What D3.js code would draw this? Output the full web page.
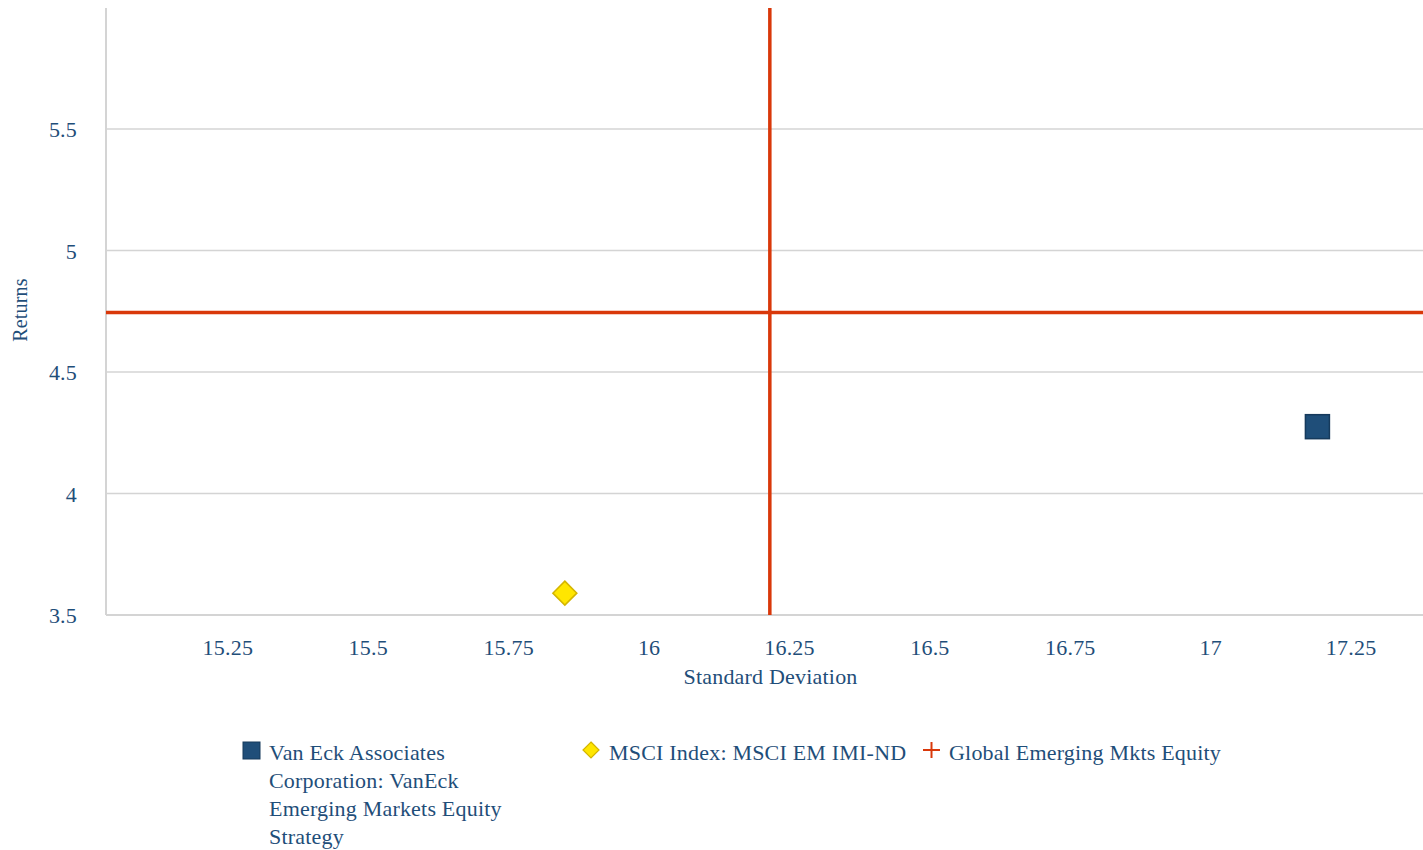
<!DOCTYPE html>
<html>
<head>
<meta charset="utf-8">
<script src="https://d3js.org/d3.v7.min.js"></script>
<style>
  body { margin: 0; background: #fff; }
  text { font-family: "Liberation Serif", "Times New Roman", serif; fill: #1f4e79; letter-spacing: 0.2px; }
</style>
</head>
<body>
<svg id="chart" width="1423" height="850"></svg>
<script>
// data
var seriesNames = ["Van Eck Associates Corporation: VanEck Emerging Markets Equity Strategy",
                   "MSCI Index: MSCI EM IMI-ND",
                   "Global Emerging Mkts Equity"];
var stdDevs = [17.19, 15.85, 16.215];
var returns = [4.275, 3.59, 4.745];
var xTicks = [15.25, 15.5, 15.75, 16, 16.25, 16.5, 16.75, 17, 17.25];
var yTicks = [3.5, 4, 4.5, 5, 5.5];

var svg = d3.select('#chart');
var pLeft = 106, pRight = 1423, pTop = 8, pBottom = 615;
var fs = 22;

var x = d3.scaleLinear().domain([15.033, 17.378]).range([pLeft, pRight]);
var y = d3.scaleLinear().domain([3.5, 5.998]).range([pBottom, pTop]);

// grid
svg.append("g").selectAll("line").data(yTicks.slice(1)).enter().append("line")
  .attr("x1", pLeft).attr("x2", pRight)
  .attr("y1", d => y(d)).attr("y2", d => y(d))
  .attr("stroke", "#d4d4d4").attr("stroke-width", 1.3);

// axis lines
svg.append("line").attr("x1", pLeft).attr("x2", pLeft).attr("y1", pTop).attr("y2", pBottom)
  .attr("stroke", "#d4d4d4").attr("stroke-width", 2);
svg.append("line").attr("x1", pLeft).attr("x2", pRight).attr("y1", pBottom).attr("y2", pBottom)
  .attr("stroke", "#d4d4d4").attr("stroke-width", 2);

// tick labels
svg.append("g").selectAll("text").data(yTicks).enter().append("text")
  .attr("x", 77).attr("y", d => y(d) + 8)
  .attr("text-anchor", "end").attr("font-size", fs)
  .text(d => d);
svg.append("g").selectAll("text").data(xTicks).enter().append("text")
  .attr("x", d => x(d)).attr("y", 655)
  .attr("text-anchor", "middle").attr("font-size", fs)
  .text(d => d);

// axis titles
svg.append("text").attr("x", (pLeft + pRight) / 2 + 6).attr("y", 684)
  .attr("text-anchor", "middle").attr("font-size", fs).text("Standard Deviation");
svg.append("text").attr("transform", "translate(27,310) rotate(-90)")
  .attr("text-anchor", "middle").attr("font-size", 20).text("Returns");

// peer group cross lines
var red = "#d9380a";
svg.append("line").attr("x1", x(stdDevs[2])).attr("x2", x(stdDevs[2]))
  .attr("y1", pTop).attr("y2", pBottom).attr("stroke", red).attr("stroke-width", 3.5);
svg.append("line").attr("x1", pLeft).attr("x2", pRight)
  .attr("y1", y(returns[2])).attr("y2", y(returns[2])).attr("stroke", red).attr("stroke-width", 3.5);

// points
svg.append("rect")
  .attr("x", x(stdDevs[0]) - 12).attr("y", y(returns[0]) - 12)
  .attr("width", 24).attr("height", 24)
  .attr("fill", "#1f4e79").attr("stroke", "#163a5c").attr("stroke-width", 1.5);
svg.append("path")
  .attr("d", "M0,-12L12,0L0,12L-12,0Z")
  .attr("transform", "translate(" + x(stdDevs[1]) + "," + y(returns[1]) + ")")
  .attr("fill", "#ffe600").attr("stroke", "#d4b500").attr("stroke-width", 1.5);

// legend
var lg = svg.append("g");
lg.append("rect").attr("x", 243).attr("y", 742).attr("width", 17).attr("height", 17)
  .attr("fill", "#1f4e79").attr("stroke", "#163a5c").attr("stroke-width", 1);
var lines0 = ["Van Eck Associates", "Corporation: VanEck", "Emerging Markets Equity", "Strategy"];
lg.append("text").attr("font-size", fs).selectAll("tspan").data(lines0).enter().append("tspan")
  .attr("x", 269).attr("y", (d, i) => 760 + i * 28).text(d => d);

lg.append("path")
  .attr("d", "M0,-8L8,0L0,8L-8,0Z")
  .attr("transform", "translate(591,750)")
  .attr("fill", "#ffe600").attr("stroke", "#d4b500").attr("stroke-width", 1.2);
lg.append("text").attr("x", 609).attr("y", 760).attr("font-size", fs).text(seriesNames[1]);

lg.append("line").attr("x1", 923).attr("x2", 940).attr("y1", 750).attr("y2", 750)
  .attr("stroke", red).attr("stroke-width", 2);
lg.append("line").attr("x1", 931.5).attr("x2", 931.5).attr("y1", 742).attr("y2", 758)
  .attr("stroke", red).attr("stroke-width", 2);
lg.append("text").attr("x", 949).attr("y", 760).attr("font-size", fs).text(seriesNames[2]);
</script>
</body>
</html>
